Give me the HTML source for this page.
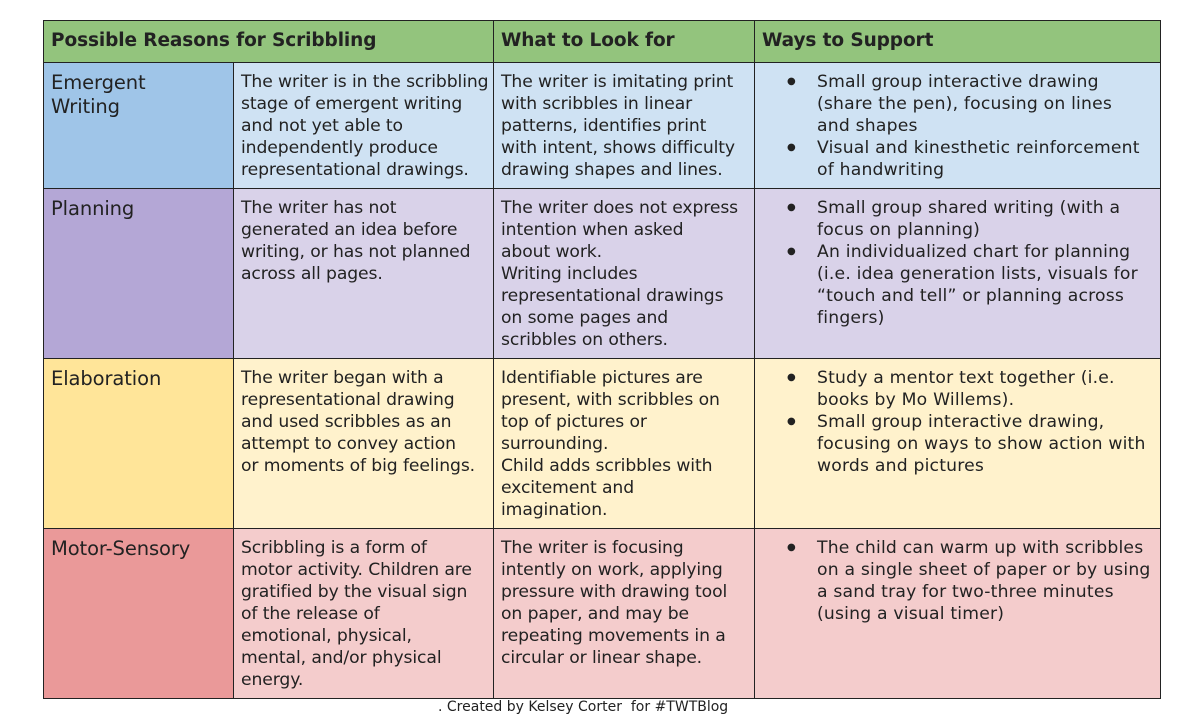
<!DOCTYPE html>
<html><head><style>
body{margin:0;width:1200px;height:727px;background:#fff;position:relative;font-family:"DejaVu Sans","Liberation Sans",sans-serif;color:#222;overflow:hidden}
.c{position:absolute;box-sizing:border-box;border:1.5px solid #222;padding:8px 7px;font-size:17.2px;line-height:22px;white-space:nowrap;letter-spacing:-0.1px}
.h{font-weight:bold;font-size:18.5px;line-height:24px;padding-top:8px;background:#93c47d}
.k{font-size:19.5px;line-height:24px}
.w{letter-spacing:0.2px}
ul{margin:0;padding:0 0 0 55px}
li{list-style:none;position:relative}
li:before{content:"●";position:absolute;left:-30px;font-size:10px}
</style></head><body>
<div class="c h" style="left:43px;top:20px;width:451px;height:43px">Possible Reasons for Scribbling</div>
<div class="c h" style="left:493px;top:20px;width:262px;height:43px">What to Look for</div>
<div class="c h" style="left:754px;top:20px;width:407px;height:43px">Ways to Support</div>

<div class="c k" style="left:43px;top:62px;width:191px;height:127px;background:#9fc5e8">Emergent<br>Writing</div>
<div class="c" style="left:233px;top:62px;width:261px;height:127px;background:#cfe2f3">The writer is in the scribbling<br>stage of emergent writing<br>and not yet able to<br>independently produce<br>representational drawings.</div>
<div class="c" style="left:493px;top:62px;width:262px;height:127px;background:#cfe2f3">The writer is imitating print<br>with scribbles in linear<br>patterns, identifies print<br>with intent, shows difficulty<br>drawing shapes and lines.</div>
<div class="c w" style="left:754px;top:62px;width:407px;height:127px;background:#cfe2f3"><ul><li>Small group interactive drawing<br>(share the pen), focusing on lines<br>and shapes</li><li>Visual and kinesthetic reinforcement<br>of handwriting</li></ul></div>

<div class="c k" style="left:43px;top:188px;width:191px;height:171px;background:#b4a7d6">Planning</div>
<div class="c" style="left:233px;top:188px;width:261px;height:171px;background:#d9d2e9">The writer has not<br>generated an idea before<br>writing, or has not planned<br>across all pages.</div>
<div class="c" style="left:493px;top:188px;width:262px;height:171px;background:#d9d2e9">The writer does not express<br>intention when asked<br>about work.<br>Writing includes<br>representational drawings<br>on some pages and<br>scribbles on others.</div>
<div class="c w" style="left:754px;top:188px;width:407px;height:171px;background:#d9d2e9"><ul><li>Small group shared writing (with a<br>focus on planning)</li><li>An individualized chart for planning<br>(i.e. idea generation lists, visuals for<br>“touch and tell” or planning across<br>fingers)</li></ul></div>

<div class="c k" style="left:43px;top:358px;width:191px;height:171px;background:#ffe599">Elaboration</div>
<div class="c" style="left:233px;top:358px;width:261px;height:171px;background:#fff2cc">The writer began with a<br>representational drawing<br>and used scribbles as an<br>attempt to convey action<br>or moments of big feelings.</div>
<div class="c" style="left:493px;top:358px;width:262px;height:171px;background:#fff2cc">Identifiable pictures are<br>present, with scribbles on<br>top of pictures or<br>surrounding.<br>Child adds scribbles with<br>excitement and<br>imagination.</div>
<div class="c w" style="left:754px;top:358px;width:407px;height:171px;background:#fff2cc"><ul><li>Study a mentor text together (i.e.<br>books by Mo Willems).</li><li>Small group interactive drawing,<br>focusing on ways to show action with<br>words and pictures</li></ul></div>

<div class="c k" style="left:43px;top:528px;width:191px;height:171px;background:#ea9999">Motor-Sensory</div>
<div class="c" style="left:233px;top:528px;width:261px;height:171px;background:#f4cccc">Scribbling is a form of<br>motor activity. Children are<br>gratified by the visual sign<br>of the release of<br>emotional, physical,<br>mental, and/or physical<br>energy.</div>
<div class="c" style="left:493px;top:528px;width:262px;height:171px;background:#f4cccc">The writer is focusing<br>intently on work, applying<br>pressure with drawing tool<br>on paper, and may be<br>repeating movements in a<br>circular or linear shape.</div>
<div class="c w" style="left:754px;top:528px;width:407px;height:171px;background:#f4cccc"><ul><li>The child can warm up with scribbles<br>on a single sheet of paper or by using<br>a sand tray for two-three minutes<br>(using a visual timer)</li></ul></div>

<div style="position:absolute;left:438px;top:699px;font-size:14px;white-space:nowrap">. Created by Kelsey Corter&nbsp; for #TWTBlog</div>
</body></html>
